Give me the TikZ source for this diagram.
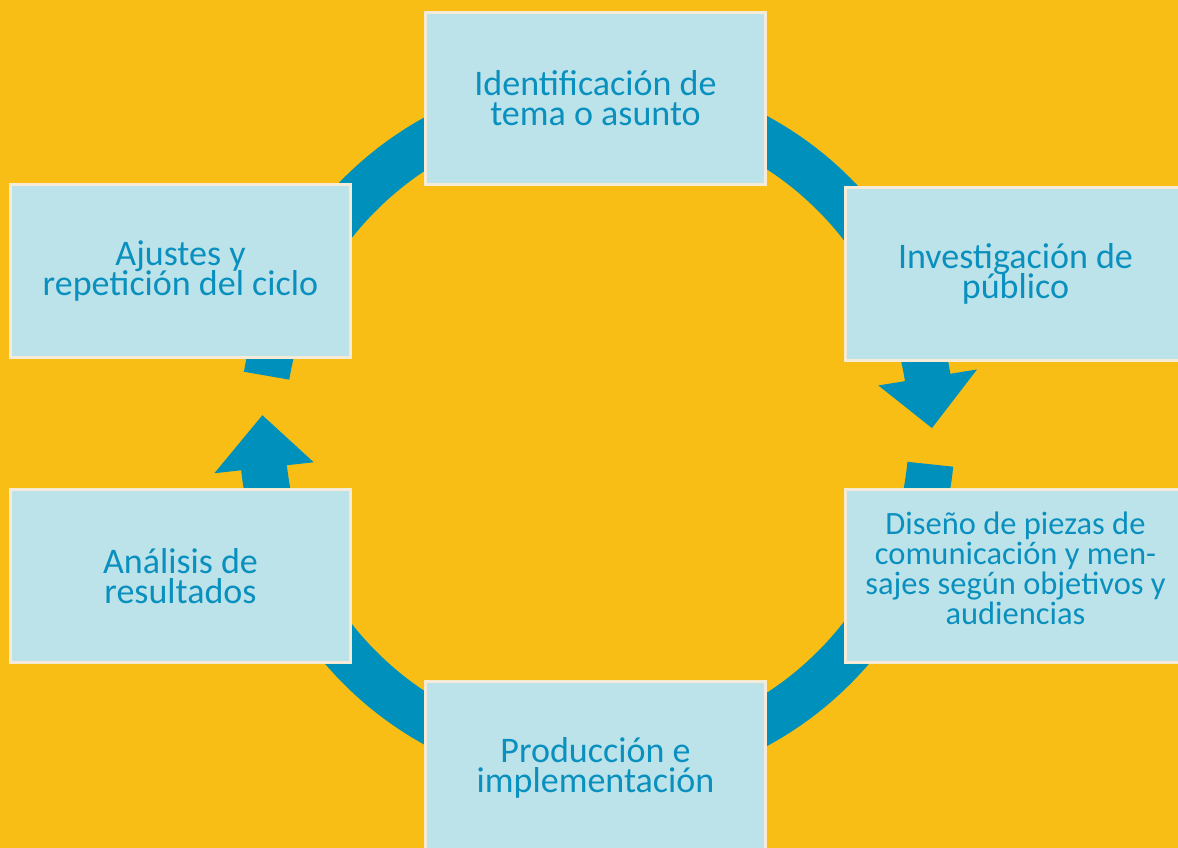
\documentclass[tikz,border=0pt]{standalone}
\usepackage{fontspec}
\setmainfont{Carlito}
\usetikzlibrary{calc}
\definecolor{bgyellow}{HTML}{F9BE16}
\definecolor{ringblue}{HTML}{0090BC}
\definecolor{boxblue}{HTML}{BDE3EA}
\definecolor{textblue}{HTML}{0A90BE}
\definecolor{boxedge}{HTML}{F6EBD6}
\newcommand{\stagefont}{\fontsize{20.5}{17}\selectfont\lineskiplimit-100pt\relax}
\newcommand{\smallstagefont}{\fontsize{18.5}{17}\selectfont\lineskiplimit-100pt\relax}
\tikzstyle{stage}=[rectangle, draw=boxedge, line width=0.06cm, fill=boxblue, text=textblue, minimum width=6.82cm, minimum height=3.46cm, inner sep=0pt, align=center, font=\stagefont]
\tikzstyle{small_stage}=[stage, font=\smallstagefont, text depth=0.3cm]
\tikzstyle{ring_arc}=[draw=ringblue, line width=0.92cm]
\tikzstyle{ring_head}=[fill=ringblue]

\begin{document}
\begin{tikzpicture}[x=0.02cm, y=-0.02cm]
    \clip (0,0) rectangle (1178,848);
    \fill[bgyellow] (0,0) rectangle (1178,848);
    \coordinate (O) at (597,431);

    % upper half of the ring, arrow into the right side
    \draw[ring_arc] ($(O)+(-170.5:335)$) arc[start angle=-170.5, end angle=-8.7, radius=335];
    \fill[ring_head] ($(O)+(-9.2:285)$) -- ($(O)+(-9.2:385)$) -- ($(O)+(-0.5:335)$) -- cycle;

    % lower half of the ring, arrow into the left side
    \draw[ring_arc] ($(O)+(5.7:335)$) arc[start angle=5.7, end angle=174.2, radius=335];
    \fill[ring_head] ($(O)+(173.7:285)$) -- ($(O)+(173.7:385)$) -- ($(O)+(182.7:335)$) -- cycle;

    \node (tema) at (595.5,98.5) [stage] {Identificación de\\tema o asunto};
    \node (publico) at (1015.5,274) [stage] {Investigación de\\público};
    \node (diseno) at (1015.5,576) [small_stage] {Diseño de piezas de\\comunicación y men-\\sajes según objetivos y\\audiencias};
    \node (produccion) at (595.5,768) [stage] {Producción e\\implementación};
    \node (analisis) at (180.5,576) [stage] {Análisis de\\resultados};
    \node (ajustes) at (180.5,271) [stage] {Ajustes y\\repetición del ciclo};
\end{tikzpicture}
\end{document}
